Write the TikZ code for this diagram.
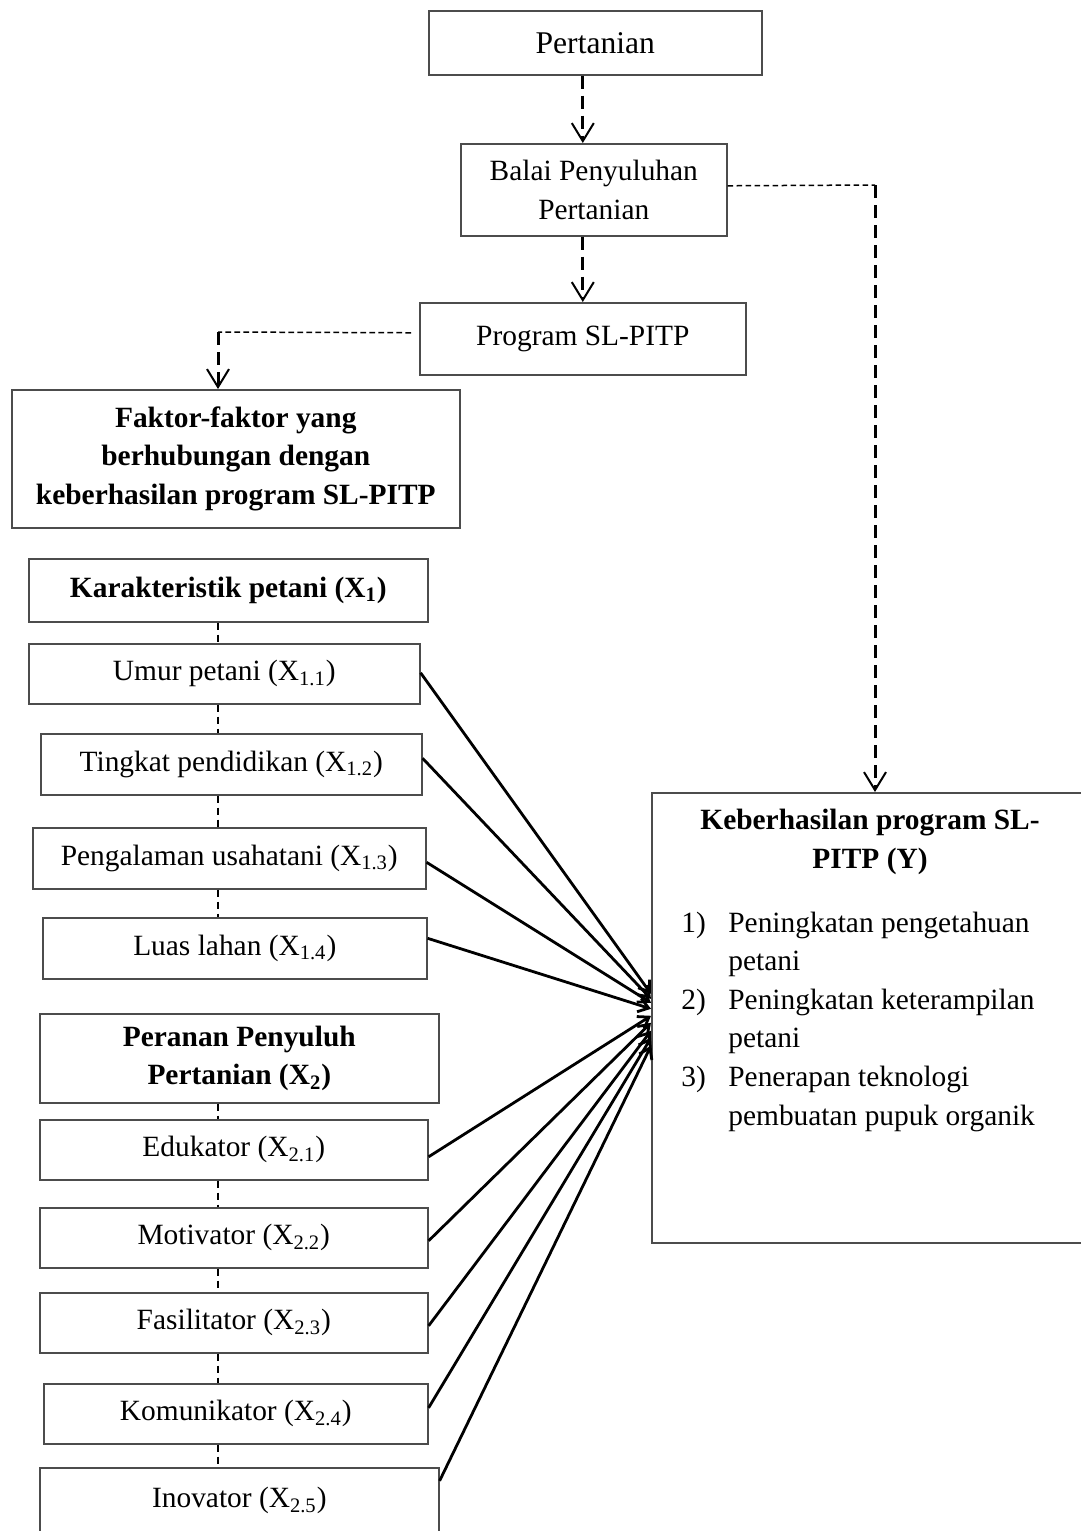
\documentclass[tikz,border=0pt]{standalone}
\usepackage{fontspec}
\setmainfont{Liberation Serif}
\usetikzlibrary{arrows.meta}

\newcommand{\ukuran}{\fontsize{14.7}{19.3}\selectfont}

\tikzset{
  kotak/.style={draw=black!70, line width=0.8pt, anchor=north west, inner sep=0pt, align=center, font=\ukuran},
  tebal/.style={font=\ukuran\bfseries},
  putus/.style={line width=1.5pt, dash pattern=on 6.5pt off 3.5pt, -{Straight Barb[length=9pt,width=11pt,line width=1pt]}},
  putustipis/.style={line width=0.75pt, dash pattern=on 2.8pt off 1.7pt},
  sambung/.style={line width=0.6pt, dash pattern=on 3.5pt off 2.5pt},
  panah/.style={line width=1.4pt, -{Straight Barb[length=5pt,width=7pt]}}
}

\begin{document}
\begin{tikzpicture}[x=0.5pt, y=-0.5pt]
    \useasboundingbox (0,0) rectangle (1081,1531);

    % Alur atas
    \node[kotak, minimum width=166.5pt, minimum height=32pt, font=\fontsize{15.8}{19}\selectfont] (pert) at (428,10) {Pertanian};
    \node[kotak, minimum width=133pt, minimum height=46pt] (balai) at (460,143) {Balai Penyuluhan\\Pertanian};
    \node[kotak, minimum width=163pt, minimum height=36pt] (prog) at (419,302) {Program SL-PITP};
    \node[kotak, tebal, minimum width=224pt, minimum height=69pt] (faktor) at (11,389) {Faktor-faktor yang\\berhubungan dengan\\keberhasilan program SL-PITP};

    % Karakteristik petani
    \node[kotak, tebal, minimum width=199.5pt, minimum height=31.5pt] (karak) at (28,558) {Karakteristik petani (X\textsubscript{1})};
    \node[kotak, minimum width=195.5pt, minimum height=30pt] (umur) at (28,643) {Umur petani (X\textsubscript{1.1})};
    \node[kotak, minimum width=190.5pt, minimum height=30.5pt] (tingkat) at (40,733) {Tingkat pendidikan (X\textsubscript{1.2})};
    \node[kotak, minimum width=196.5pt, minimum height=30.5pt] (peng) at (32,827) {Pengalaman usahatani (X\textsubscript{1.3})};
    \node[kotak, minimum width=192pt, minimum height=30.5pt] (luas) at (42,917) {Luas lahan (X\textsubscript{1.4})};

    % Peranan penyuluh
    \node[kotak, tebal, minimum width=199.5pt, minimum height=44.5pt] (peranan) at (39,1013) {Peranan Penyuluh\\Pertanian (X\textsubscript{2})};
    \node[kotak, minimum width=194pt, minimum height=30pt] (edu) at (39,1119) {Edukator (X\textsubscript{2.1})};
    \node[kotak, minimum width=194pt, minimum height=30pt] (moti) at (39,1207) {Motivator (X\textsubscript{2.2})};
    \node[kotak, minimum width=194pt, minimum height=30pt] (fasi) at (39,1292) {Fasilitator (X\textsubscript{2.3})};
    \node[kotak, minimum width=192pt, minimum height=30pt] (komu) at (43,1383) {Komunikator (X\textsubscript{2.4})};
    \node[kotak, minimum width=199.5pt, minimum height=33pt] (inov) at (39,1467) {Inovator (X\textsubscript{2.5})};

    % Variabel Y
    \node[kotak, minimum width=219pt, minimum height=225pt] (ybox) at (651,792) {};
    \node[tebal, align=center, inner sep=0pt] (judul) at (870,842) {Keberhasilan program SL-\\PITP (Y)};
    \node[font=\ukuran, anchor=base west, inner sep=0pt] (daftar) at (681,932) {%
      \begin{tabular}[t]{@{}p{23.5pt}@{}l@{}}
        1) & Peningkatan pengetahuan\\
           & petani\\
        2) & Peningkatan keterampilan\\
           & petani\\
        3) & Penerapan teknologi\\
           & pembuatan pupuk organik
      \end{tabular}};

    % Garis putus-putus
    \coordinate (poros) at (218,0);
    \coordinate (belok1) at (218,332);
    \coordinate (belok2) at (875,185);
    \draw[putus] (pert.south -| prog.north) -- (balai.north -| prog.north);
    \draw[putus] (balai.south -| prog.north) -- (prog.north);
    \draw[putustipis, shorten <=4pt] ([yshift=3pt]prog.west) -- (belok1);
    \draw[putus] (belok1) -- (belok1 |- faktor.north);
    \draw[putustipis] ([yshift=2pt]balai.east) -- (belok2);
    \draw[putus] (belok2) -- (belok2 |- ybox.north);

    \foreach \a/\b in {karak/umur, umur/tingkat, tingkat/peng, peng/luas,
                       peranan/edu, edu/moti, moti/fasi, fasi/komu, komu/inov}
        \draw[sambung] (\a.south -| poros) -- (\b.north -| poros);

    % Panah ke Y
    \foreach \n/\a/\s in {umur/0.5pt/12pt, tingkat/3pt/9.5pt, peng/-2pt/7.5pt, luas/5pt/4.5pt,
                          edu/-3.5pt/1pt, moti/-1.5pt/-2.5pt, fasi/-1.5pt/-6.5pt, komu/3pt/-10pt, inov/10pt/-14pt}
        \draw[panah] ([yshift=\a]\n.east) -- ([yshift=\s]ybox.west);
\end{tikzpicture}
\end{document}
